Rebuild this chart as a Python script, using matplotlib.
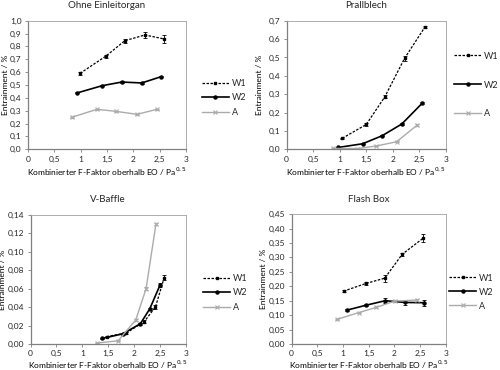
import matplotlib
matplotlib.use("Agg")
import matplotlib.pyplot as plt
from matplotlib.ticker import FuncFormatter, MultipleLocator

plt.rcParams["font.family"] = ["Lato", "DejaVu Sans"]
plt.rcParams["text.color"] = "#262626"

# ------------------------------------------------------------
# Daten
# ------------------------------------------------------------
TITEL = ["Ohne Einleitorgan", "Prallblech", "V-Baffle", "Flash Box"]

# Ohne Einleitorgan
oe_w1_x = [0.99, 1.48, 1.84, 2.22, 2.59]
oe_w1_y = [0.591, 0.725, 0.845, 0.889, 0.858]
oe_w1_e = [0.012, 0.012, 0.015, 0.02, 0.03]
oe_w2_x = [0.93, 1.41, 1.78, 2.16, 2.53]
oe_w2_y = [0.438, 0.495, 0.523, 0.516, 0.565]
oe_w2_e = [0.004, 0.004, 0.005, 0.005, 0.005]
oe_a_x = [0.83, 1.31, 1.67, 2.07, 2.45]
oe_a_y = [0.249, 0.311, 0.295, 0.272, 0.311]
oe_a_e = [0.003, 0.004, 0.004, 0.005, 0.005]

# Prallblech
pb_w1_x = [1.05, 1.5, 1.85, 2.22, 2.6]
pb_w1_y = [0.06, 0.135, 0.286, 0.495, 0.664]
pb_w1_e = [0.003, 0.01, 0.008, 0.012, 0.006]
pb_w2_x = [0.97, 1.43, 1.8, 2.17, 2.55]
pb_w2_y = [0.01, 0.03, 0.074, 0.138, 0.25]
pb_w2_e = [0.002, 0.002, 0.003, 0.004, 0.005]
pb_a_x = [0.88, 1.33, 1.69, 2.07, 2.46]
pb_a_y = [0.005, 0.004, 0.018, 0.041, 0.132]
pb_a_e = [0.001, 0.001, 0.002, 0.003, 0.003]

# V-Baffle
vb_w1_x = [1.47, 1.85, 2.19, 2.41, 2.58]
vb_w1_y = [0.008, 0.012, 0.024, 0.040, 0.072]
vb_w1_e = [0.0008, 0.001, 0.0015, 0.002, 0.003]
vb_w2_x = [1.38, 1.78, 2.12, 2.3, 2.5]
vb_w2_y = [0.006, 0.011, 0.022, 0.038, 0.064]
vb_w2_e = [0.0005, 0.0008, 0.001, 0.0015, 0.002]
vb_a_x = [1.28, 1.69, 2.03, 2.23, 2.42]
vb_a_y = [0.001, 0.0035, 0.026, 0.060, 0.130]
vb_a_e = [0.0003, 0.0005, 0.001, 0.002, 0.001]

# Flash Box
fb_w1_x = [1.01, 1.45, 1.81, 2.15, 2.56]
fb_w1_y = [0.183, 0.21, 0.228, 0.311, 0.367]
fb_w1_e = [0.004, 0.006, 0.012, 0.006, 0.014]
fb_w2_x = [1.07, 1.44, 1.82, 2.2, 2.58]
fb_w2_y = [0.117, 0.134, 0.150, 0.144, 0.143]
fb_w2_e = [0.004, 0.004, 0.008, 0.008, 0.01]
fb_a_x = [0.88, 1.31, 1.65, 2.01, 2.43]
fb_a_y = [0.085, 0.109, 0.127, 0.149, 0.152]
fb_a_e = [0.002, 0.002, 0.003, 0.003, 0.005]

DATEN = [
    [(oe_w1_x, oe_w1_y, oe_w1_e), (oe_w2_x, oe_w2_y, oe_w2_e), (oe_a_x, oe_a_y, oe_a_e)],
    [(pb_w1_x, pb_w1_y, pb_w1_e), (pb_w2_x, pb_w2_y, pb_w2_e), (pb_a_x, pb_a_y, pb_a_e)],
    [(vb_w1_x, vb_w1_y, vb_w1_e), (vb_w2_x, vb_w2_y, vb_w2_e), (vb_a_x, vb_a_y, vb_a_e)],
    [(fb_w1_x, fb_w1_y, fb_w1_e), (fb_w2_x, fb_w2_y, fb_w2_e), (fb_a_x, fb_a_y, fb_a_e)],
]

Y_MAX = [1.0, 0.7, 0.14, 0.45]
Y_STEP = [0.1, 0.1, 0.02, 0.05]
Y_DEZ = [1, 1, 2, 2]

SERIEN = ["W1", "W2", "A"]
STILE = [
    dict(color="black", ls=(0, (2, 1.2)), lw=0.9, marker="s", ms=2.0),
    dict(color="black", ls="-", lw=1.2, marker="o", ms=2.2),
    dict(color="#ababab", ls="-", lw=1.0, marker="x", ms=2.2, mew=0.8),
]

# Achsenpositionen [links, unten, breite, hoehe]
POS = [
    [0.056, 0.5965, 0.316, 0.3475],
    [0.573, 0.5965, 0.319, 0.3475],
    [0.061, 0.0703, 0.311, 0.349],
    [0.583, 0.0703, 0.309, 0.351],
]
YLABEL_X = [-0.12, -0.15, -0.155, -0.16]
XLABEL_Y = [-0.175, -0.175, -0.16, -0.16]
LEG_X = [1.10, 1.05, 1.11, 1.02]
LEG_Y = [0.40, 0.50, 0.395, 0.40]
LEG_ABSTAND = [0.6, 2.2, 0.6, 0.55]

fig = plt.figure(figsize=(5, 3.7), dpi=100)

for i in range(4):
    ax = fig.add_axes(POS[i])
    handles = []
    for (x, y, e), name, st in zip(DATEN[i], SERIEN, STILE):
        h = ax.errorbar(x, y, yerr=e, capsize=1.5, elinewidth=0.6, capthick=0.6,
                        ecolor=st["color"], label=name, **st)
        handles.append(h.lines[0])

    ax.set_xlim(0, 3)
    ax.set_ylim(0, Y_MAX[i])
    ax.xaxis.set_major_locator(MultipleLocator(0.5))
    ax.yaxis.set_major_locator(MultipleLocator(Y_STEP[i]))
    dez = Y_DEZ[i]
    ax.yaxis.set_major_formatter(FuncFormatter(
        lambda v, p, d=dez: f"{v:.{d}f}".replace(".", ",")))
    ax.xaxis.set_major_formatter(FuncFormatter(
        lambda v, p: (f"{v:g}").replace(".", ",")))
    ax.tick_params(labelsize=6, length=2.5, width=0.6, color="#808080", pad=2,
                   labelcolor="#262626")

    for s in ["top", "right"]:
        ax.spines[s].set_color("#a0a0a0")
        ax.spines[s].set_linewidth(0.6)
    for s in ["left", "bottom"]:
        ax.spines[s].set_color("#808080")
        ax.spines[s].set_linewidth(0.9)

    ax.set_title(TITEL[i], fontsize=7, pad=9)
    ax.set_ylabel("Entrainment / %", fontsize=6)
    ax.yaxis.set_label_coords(YLABEL_X[i], 0.5)
    ax.set_xlabel("Kombinierter F-Faktor oberhalb EO / Pa$^{0,5}$", fontsize=6)
    ax.xaxis.set_label_coords(0.5, XLABEL_Y[i])
    ax.xaxis.label.set_va("center")

    ax.legend(handles=handles, labels=SERIEN, loc="center left",
              bbox_to_anchor=(LEG_X[i], LEG_Y[i]), frameon=False, fontsize=6.5,
              handlelength=3.0, handletextpad=0.3, labelspacing=LEG_ABSTAND[i],
              borderaxespad=0, borderpad=0)

fig.savefig("out.png", dpi=100)
